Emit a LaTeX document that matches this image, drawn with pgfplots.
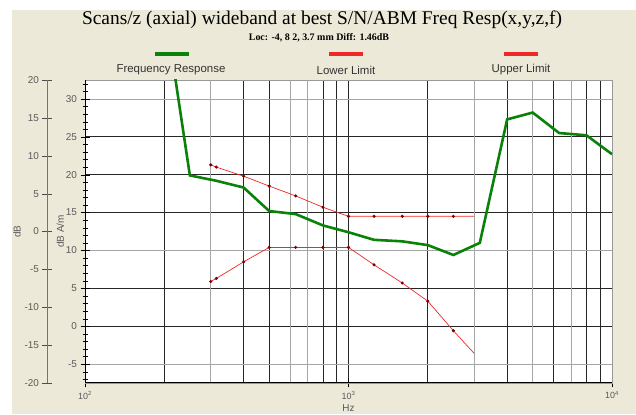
\documentclass[border=0pt]{standalone}
\usepackage{pgfplots}
\pgfplotsset{compat=1.18}
\usepackage{pgfplotstable}
\usepackage{fontspec}
\setmainfont{Liberation Serif}
\setsansfont{Liberation Sans}
\definecolor{panel}{HTML}{ECE9D8}
\definecolor{frgreen}{HTML}{0A820A}
\definecolor{limred}{HTML}{F02828}
\definecolor{dotred}{HTML}{7A0000}
\definecolor{ticktext}{HTML}{5A5A5A}

% third-octave points, dB A/m
\pgfplotstableread{
f v
200 42.4
250 19.9
315 19.2
400 18.3
500 15.2
630 14.8
800 13.3
1000 12.4
1250 11.4
1600 11.2
2000 10.7
2500 9.4
3150 11.0
4000 27.3
5000 28.2
6300 25.5
8000 25.2
10000 22.7
}\freqresp

\pgfplotstableread{
f v
300 5.9
315 6.3
400 8.5
500 10.4
630 10.4
800 10.4
1000 10.4
1250 8.1
1600 5.7
2000 3.3
2500 -0.6
3000 -3.6
}\lowerlim

\pgfplotstableread{
f v
300 21.3
315 21.0
400 19.8
500 18.5
630 17.2
800 15.7
1000 14.5
1250 14.5
1600 14.5
2000 14.5
2500 14.5
3000 14.5
}\upperlim

\begin{document}
\begin{tikzpicture}
\fill[white] (0bp,0bp) rectangle (636bp,414bp);
\fill[panel] (12bp,0bp) rectangle (636bp,404bp);

\node[font=\fontsize{19.5}{21}\selectfont] at (322bp,394bp)
  {Scans/z (axial) wideband at best S/N/ABM Freq Resp(x,y,z,f)};
\node[font=\bfseries\fontsize{10}{11}\selectfont] at (319bp,376bp)
  {Loc: -4, 8 2, 3.7 mm Diff: 1.46dB};

% legend
\fill[frgreen] (155bp,358bp) rectangle (189bp,362bp);
\fill[limred] (329bp,358bp) rectangle (363bp,362bp);
\fill[limred] (504bp,358bp) rectangle (538bp,362bp);
\begin{scope}[every node/.style={font=\sffamily\fontsize{11.5}{12}\selectfont,text=black!80}]
\node at (171bp,344bp) {Frequency Response};
\node at (346bp,344bp) {Lower Limit};
\node at (521bp,344bp) {Upper Limit};
\end{scope}

% outer dB scale
\begin{axis}[at={(47bp,31bp)},anchor=south west,scale only axis,
  width=20bp,height=303bp,hide x axis,axis y line*=left,
  xmin=0,xmax=1,ymin=-20,ymax=20,ytick={-20,-15,...,20},
  ytick align=center,major tick length=9bp,
  axis line style={black!55},ytick style={black!70},
  yticklabel style={font=\sffamily\fontsize{10}{11}\selectfont,text=ticktext},
  /pgf/number format/assume math mode=true,
  ylabel={dB},
  every axis y label/.style={at={(axis description cs:-1.5,0.5)},rotate=90,anchor=center,
    font=\sffamily\fontsize{10}{11}\selectfont,text=ticktext}]
\end{axis}

\begin{axis}[at={(85bp,31bp)},anchor=south west,scale only axis,
  width=527bp,height=303bp,
  xmode=log,xmin=100,xmax=10000,ymin=-7.5,ymax=32.5,
  axis background/.style={fill=white},
  xtick={100,1000,10000},
  xticklabels={10\textsuperscript{2},10\textsuperscript{3},10\textsuperscript{4}},
  minor xtick={200,400,500,800,900,2000,4000,6000,8000,9000},
  extra x ticks={300,600,700,3000,5000,7000},extra x tick labels={},
  extra x tick style={major grid style={black!35,line width=0.8bp},major tick length=0pt},
  ytick={0,5,15,20,25},
  extra y ticks={-5,10,30},
  extra y tick style={major grid style={black!35,line width=0.8bp}},
  minor ytick={-7,-6,-5,-4,-3,-2,-1,0,1,2,3,4,5,6,7,8,9,10,11,12,13,14,15,16,17,18,19,20,21,22,23,24,25,26,27,28,29,30,31,32},
  xmajorgrids,xminorgrids,ymajorgrids,
  major grid style={black!85,line width=0.8bp},
  minor grid style={black!85,line width=0.8bp},
  tick pos=left,ytick align=center,xtick align=center,
  major tick length=9bp,minor tick length=5bp,
  minor x tick style={draw=none},
  tick style={black},
  axis line style={black!40,line width=0.6bp},
  yticklabel style={font=\sffamily\fontsize{10}{11}\selectfont,text=ticktext},
  xticklabel style={font=\sffamily\fontsize{9}{10}\selectfont,text=ticktext},
  /pgf/number format/assume math mode=true,
  xlabel={Hz},ylabel={dB A/m},
  every axis x label/.style={at={(axis description cs:0.5,-0.082)},anchor=center,
    font=\sffamily\fontsize{10}{11}\selectfont,text=ticktext},
  every axis y label/.style={at={(axis description cs:-0.047,0.5)},rotate=90,anchor=center,
    font=\sffamily\fontsize{10}{11}\selectfont,text=ticktext}]
\addplot[frgreen,line width=2.6bp] table[x=f,y=v]{\freqresp};
\addplot[limred,line width=0.7bp,mark=*,mark size=1.2bp,
  mark options={fill=dotred,draw=dotred},mark indices={1,2,3,4,5,6,7,8,9,10,11}]
  table[x=f,y=v]{\lowerlim};
\addplot[limred,line width=0.7bp,mark=*,mark size=1.2bp,
  mark options={fill=dotred,draw=dotred},mark indices={1,2,3,4,5,6,7,8,9,10,11}]
  table[x=f,y=v]{\upperlim};
\draw[line width=1.6bp] (rel axis cs:0,1) -- (rel axis cs:0,0) -- (rel axis cs:1,0);
\end{axis}
\end{tikzpicture}
\end{document}
